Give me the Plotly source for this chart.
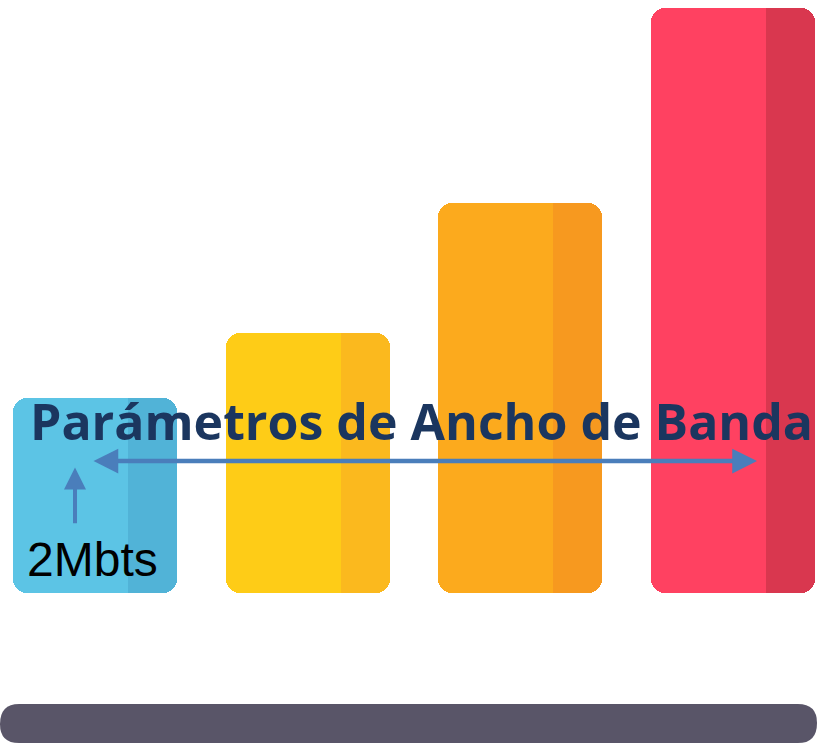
import plotly.graph_objects as go

# ---- data ----
categories = ["Nivel 1", "Nivel 2", "Nivel 3", "Nivel 4"]
values = [3, 4, 6, 9]
light_colors = ["#5CC4E5", "#FECC17", "#FCAA1D", "#FF4161"]
dark_colors = ["#51B3D7", "#FBB91E", "#F7991F", "#D9374F"]
title_text = "Parámetros de Ancho de Banda"
speed_label = "2Mbts"

xs = list(range(len(categories)))
zeros = [0] * len(values)
BW = 0.77          # full bar width (x units)
LW = 0.54          # light part width
R = 14             # corner radius px

fig = go.Figure()


def add_bar(width, offset, colors, radius):
    fig.add_trace(go.Bar(x=xs, y=values, base=zeros, width=width, offset=offset,
                         marker=dict(color=colors, cornerradius=radius, line=dict(width=0)),
                         hoverinfo="skip", showlegend=False))


add_bar(BW, -BW / 2, dark_colors, R)
add_bar(LW, -BW / 2, light_colors, R)
# square filler so light/dark boundary stays straight
add_bar(LW - 0.15, -BW / 2 + 0.15, light_colors, 0)

fig.update_layout(barmode="overlay")

# base bar (rounded) in data coordinates
x0, x1 = -0.4467, 3.395
y0, y1 = -2.308, -1.708
rx, ry = 0.09, 0.29
path = (f"M {x0+rx},{y1} L {x1-rx},{y1} Q {x1},{y1} {x1},{y1-ry} Q {x1},{y0} {x1-rx},{y0} "
        f"L {x0+rx},{y0} Q {x0},{y0} {x0},{y0+ry} Q {x0},{y1} {x0+rx},{y1} Z")
fig.add_shape(type="path", path=path, fillcolor="#595568", line=dict(width=0), xref="x", yref="y")

arrow_color = "#4A7EBB"
fig.add_annotation(x=3.113, y=2.03, ax=-0.014, ay=2.03, xref="x", yref="y", axref="x", ayref="y",
                   showarrow=True, arrowhead=2, startarrowhead=2, arrowside="end+start",
                   arrowsize=1.1, startarrowsize=1.1, arrowwidth=4.5, arrowcolor=arrow_color, text="")
fig.add_annotation(x=-0.094, y=1.93, ax=-0.094, ay=1.05, xref="x", yref="y", axref="x", ayref="y",
                   showarrow=True, arrowhead=2, arrowsize=1.1, arrowwidth=4, arrowcolor=arrow_color, text="")

fig.add_annotation(x=421 / 817, y=(745 - 421) / 745, xref="paper", yref="paper", xanchor="center", yanchor="middle",
                   text=f"<b>{title_text}</b>", showarrow=False,
                   font=dict(family="Open Sans", size=50, color="#1B365F"))
fig.add_annotation(x=92.5 / 817, y=(745 - 559) / 745, xref="paper", yref="paper", xanchor="center", yanchor="middle",
                   text=speed_label, showarrow=False,
                   font=dict(family="Liberation Sans, Arial", size=48, color="#000000"))

fig.update_xaxes(range=[-0.4467, 3.395], visible=False, fixedrange=True)
fig.update_yaxes(range=[-2.338, 9.123], visible=False, fixedrange=True)
fig.update_layout(width=817, height=745, margin=dict(l=0, r=0, t=0, b=0),
                  paper_bgcolor="white", plot_bgcolor="white", bargap=0)

fig.write_html("out.html", config={"displayModeBar": False},
               post_script="document.body.style.margin='0';document.body.style.overflow='hidden';")
